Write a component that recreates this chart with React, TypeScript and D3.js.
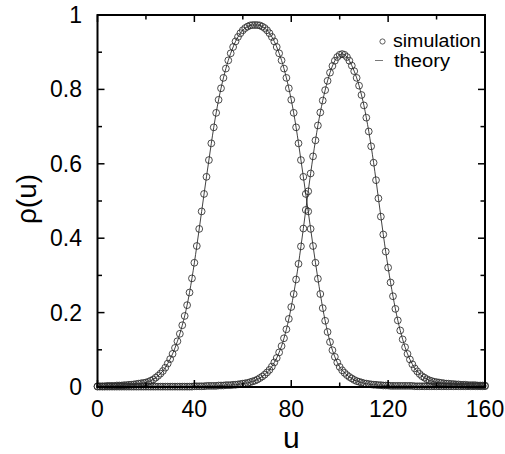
import React from "react";
import * as d3 from "d3";

// u runs 0..160 in steps of 1, one simulation point per step
const uValues: number[] = d3.range(0, 161);

// left peak (centre ~65)
const rhoLeft: number[] = [
  0.002, 0.002, 0.002, 0.002, 0.003, 0.003, 0.003, 0.003, 0.004, 0.004,
  0.004, 0.005, 0.005, 0.006, 0.006, 0.007, 0.008, 0.009, 0.010, 0.011,
  0.012, 0.014, 0.017, 0.020, 0.025, 0.030, 0.036, 0.043, 0.052, 0.063,
  0.075, 0.089, 0.105, 0.123, 0.143, 0.166, 0.191, 0.220, 0.254, 0.292,
  0.334, 0.379, 0.425, 0.472, 0.519, 0.565, 0.610, 0.655, 0.698, 0.737,
  0.772, 0.803, 0.831, 0.856, 0.878, 0.897, 0.914, 0.929, 0.941, 0.951,
  0.959, 0.965, 0.969, 0.972, 0.973, 0.973, 0.973, 0.972, 0.969, 0.965,
  0.959, 0.951, 0.941, 0.929, 0.914, 0.897, 0.878, 0.856, 0.831, 0.803,
  0.772, 0.737, 0.698, 0.655, 0.610, 0.565, 0.519, 0.472, 0.425, 0.379,
  0.334, 0.291, 0.250, 0.212, 0.178, 0.148, 0.121, 0.099, 0.081, 0.066,
  0.054, 0.045, 0.038, 0.032, 0.027, 0.023, 0.019, 0.016, 0.014, 0.012,
  0.010, 0.009, 0.008, 0.007, 0.006, 0.006, 0.005, 0.005, 0.004, 0.004,
  0.004, 0.003, 0.003, 0.003, 0.003, 0.003, 0.003, 0.003, 0.003, 0.003,
  0.003, 0.002, 0.002, 0.002, 0.002, 0.002, 0.002, 0.002, 0.002, 0.002,
  0.002, 0.002, 0.002, 0.002, 0.002, 0.002, 0.002, 0.002, 0.002, 0.002,
  0.002, 0.002, 0.002, 0.002, 0.002, 0.002, 0.002, 0.002, 0.002, 0.002,
  0.002,
];

// right peak (centre ~101)
const rhoRight: number[] = [
  0.001, 0.001, 0.001, 0.001, 0.001, 0.001, 0.001, 0.001, 0.001, 0.001,
  0.001, 0.001, 0.001, 0.001, 0.001, 0.001, 0.001, 0.001, 0.001, 0.001,
  0.001, 0.001, 0.001, 0.001, 0.001, 0.001, 0.001, 0.001, 0.001, 0.001,
  0.001, 0.001, 0.001, 0.001, 0.001, 0.001, 0.001, 0.001, 0.001, 0.001,
  0.002, 0.002, 0.002, 0.002, 0.002, 0.003, 0.003, 0.003, 0.003, 0.003,
  0.004, 0.004, 0.004, 0.005, 0.005, 0.005, 0.006, 0.006, 0.007, 0.008,
  0.009, 0.010, 0.011, 0.013, 0.015, 0.017, 0.020, 0.024, 0.028, 0.033,
  0.039, 0.046, 0.055, 0.066, 0.078, 0.093, 0.110, 0.131, 0.155, 0.183,
  0.215, 0.250, 0.289, 0.331, 0.378, 0.426, 0.476, 0.526, 0.574, 0.620,
  0.663, 0.703, 0.738, 0.770, 0.798, 0.823, 0.845, 0.863, 0.877, 0.887,
  0.893, 0.895, 0.893, 0.887, 0.877, 0.864, 0.849, 0.831, 0.810, 0.785,
  0.757, 0.724, 0.687, 0.647, 0.603, 0.556, 0.507, 0.458, 0.410, 0.364,
  0.321, 0.281, 0.244, 0.210, 0.179, 0.152, 0.128, 0.107, 0.089, 0.074,
  0.061, 0.050, 0.042, 0.035, 0.029, 0.025, 0.021, 0.018, 0.016, 0.014,
  0.013, 0.012, 0.011, 0.010, 0.009, 0.009, 0.008, 0.008, 0.007, 0.007,
  0.006, 0.006, 0.006, 0.005, 0.005, 0.005, 0.005, 0.004, 0.004, 0.004,
  0.004,
];

const xMajor: number[] = [0, 40, 80, 120, 160];
const xMinor: number[] = [20, 60, 100, 140];
const yMajor: number[] = [0, 0.2, 0.4, 0.6, 0.8, 1];
const yMinor: number[] = [0.1, 0.3, 0.5, 0.7, 0.9];
const yTickLabels: string[] = ["0", "0.2", "0.4", "0.6", "0.8", "1"];
const legendLabels: string[] = ["simulation", "theory"];

const FONT = "'Liberation Sans', Arial, Helvetica, sans-serif";

export default function App() {
  const width = 505;
  const height = 454;
  const x = d3.scaleLinear().domain([0, 160]).range([97.5, 485]);
  const y = d3.scaleLinear().domain([0, 1]).range([387, 15]);

  const series = [rhoLeft, rhoRight].map((vals) =>
    uValues.map((u, i) => ({ u, rho: vals[i] }))
  );

  const line = d3
    .line<{ u: number; rho: number }>()
    .x((d) => x(d.u))
    .y((d) => y(d.rho))
    .curve(d3.curveMonotoneX);

  const [x0, x1] = x.range();
  const [y0, y1] = y.range();
  const major = 7;
  const minor = 4.5;

  return (
    <svg
      width={width}
      height={height}
      style={{ position: "absolute", left: 0, top: 0, background: "#fff" }}
      fontFamily={FONT}
    >
      <rect width={width} height={height} fill="#fff" />

      {/* theory curves */}
      {series.map((s, k) => (
        <path key={"l" + k} d={line(s) || ""} fill="none" stroke="#111" strokeWidth={0.8} />
      ))}

      {/* simulation points */}
      {series.map((s, k) => (
        <g key={"p" + k}>
          {s.map((d) => (
            <circle
              key={d.u}
              cx={x(d.u)}
              cy={y(d.rho)}
              r={3.4}
              fill="none"
              stroke="#2a2a2a"
              strokeWidth={0.85}
            />
          ))}
        </g>
      ))}

      {/* frame */}
      <rect
        x={x0}
        y={y1}
        width={x1 - x0}
        height={y0 - y1}
        fill="none"
        stroke="#000"
        strokeWidth={2}
      />

      {/* x ticks (bottom and top, inward) */}
      {xMajor.concat(xMinor).map((t) => {
        const len = xMajor.includes(t) ? major : minor;
        return (
          <g key={"xt" + t} stroke="#000" strokeWidth={1.5}>
            <line x1={x(t)} x2={x(t)} y1={y0} y2={y0 - len} />
            <line x1={x(t)} x2={x(t)} y1={y1} y2={y1 + len} />
          </g>
        );
      })}
      {/* y ticks (left and right, inward) */}
      {yMajor.concat(yMinor).map((t) => {
        const len = yMajor.includes(t) ? major : minor;
        return (
          <g key={"yt" + t} stroke="#000" strokeWidth={1.5}>
            <line x1={x0} x2={x0 + len} y1={y(t)} y2={y(t)} />
            <line x1={x1} x2={x1 - len} y1={y(t)} y2={y(t)} />
          </g>
        );
      })}

      {/* tick labels */}
      {xMajor.map((t) => (
        <text key={"xl" + t} x={x(t)} y={417} fontSize={23} textAnchor="middle" fill="#000">
          {t}
        </text>
      ))}
      {yMajor.map((t, i) => (
        <text key={"yl" + t} x={82} y={y(t) + 8} fontSize={23} textAnchor="end" fill="#000">
          {yTickLabels[i]}
        </text>
      ))}

      {/* axis titles */}
      <text x={x(80)} y={448} fontSize={30} textAnchor="middle" fill="#000">
        u
      </text>
      <text
        transform={`translate(36, 199) rotate(-90)`}
        fontSize={28}
        textAnchor="middle"
        fill="#000"
      >
        ρ(u)
      </text>

      {/* legend */}
      <circle cx={382.5} cy={41.5} r={2.6} fill="none" stroke="#333" strokeWidth={0.8} />
      <text x={393} y={46.5} fontSize={17.5} fill="#000" textLength={88} lengthAdjust="spacingAndGlyphs">
        {legendLabels[0]}
      </text>
      <line x1={375} x2={383} y1={60.5} y2={60.5} stroke="#555" strokeWidth={0.8} />
      <text x={394} y={66.5} fontSize={17.5} fill="#000" textLength={56} lengthAdjust="spacingAndGlyphs">
        {legendLabels[1]}
      </text>
    </svg>
  );
}
